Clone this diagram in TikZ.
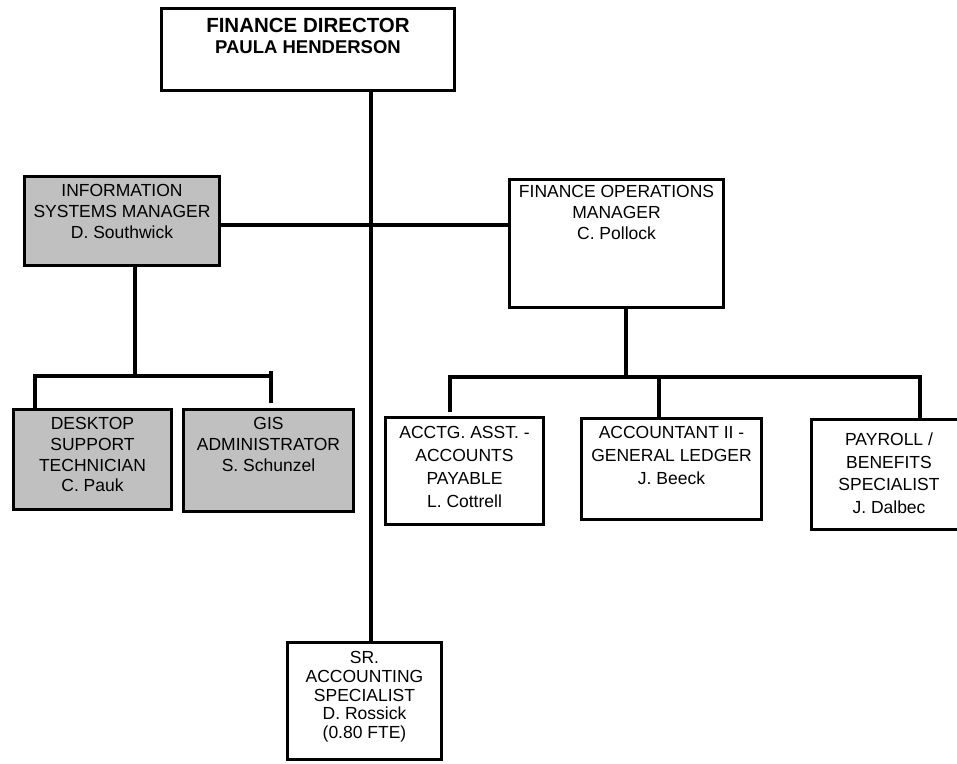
\documentclass[tikz,border=0pt]{standalone}
\usepackage{fontspec}
\setmainfont{Liberation Sans}
\definecolor{unitgray}{HTML}{C0C0C0}
\tikzset{
  orgbox/.style={draw=black, line width=3.3pt, fill=white, rectangle, inner sep=0pt, outer sep=0pt, anchor=north west},
  itbox/.style={orgbox, fill=unitgray},
  title/.style={anchor=north, inner sep=0pt, align=center, font=\fontsize{17.5}{20.6}\selectfont},
  wide/.style={title, font=\fontsize{17.5}{22.7}\selectfont},
  tight/.style={title, font=\fontsize{17.5}{18.8}\selectfont},
  link/.style={line width=4pt, line join=miter}
}
\begin{document}
\begin{tikzpicture}[x=1pt, y=-1pt]
\useasboundingbox (0,0) rectangle (957,763);
\clip (0,0) rectangle (957,763);

% boxes
\node[orgbox, minimum width=293pt, minimum height=82pt] (fd) at (161.5,8.5) {};
\node[itbox, minimum width=195pt, minimum height=89pt] (ism) at (24.5,176.5) {};
\node[orgbox, minimum width=214pt, minimum height=128pt] (fom) at (509.5,179.5) {};
\node[itbox, minimum width=158pt, minimum height=100pt] (dst) at (13.5,409.5) {};
\node[itbox, minimum width=170pt, minimum height=102pt] (gis) at (183.5,409.5) {};
\node[orgbox, minimum width=158pt, minimum height=107pt] (ap) at (385.5,417.5) {};
\node[orgbox, minimum width=180pt, minimum height=101pt] (gl) at (581.5,418.5) {};
\node[orgbox, minimum width=156pt, minimum height=110pt] (pay) at (811.5,419.5) {};
\node[orgbox, minimum width=154pt, minimum height=117pt] (sr) at (287.5,642.5) {};

% texts
\node[title, font=\bfseries\fontsize{18.5}{21}\selectfont] (fdt) at (308,17.5)
  {{\fontsize{20.5}{21}\selectfont FINANCE DIRECTOR}\\PAULA HENDERSON};
\node[title] (ismt) at (122,184.5) {INFORMATION\\SYSTEMS MANAGER\\D. Southwick};
\node[title] (fomt) at (616.5,185.5) {FINANCE OPERATIONS\\MANAGER\\C. Pollock};
\node[title] (dstt) at (92.5,417.5) {DESKTOP\\SUPPORT\\TECHNICIAN\\C. Pauk};
\node[title] (gist) at (268.5,417.5) {GIS\\ADMINISTRATOR\\S. Schunzel};
\node[wide] (apt) at (464.5,426.5) {ACCTG. ASST. -\\ACCOUNTS\\PAYABLE\\L. Cottrell};
\node[wide] (glt) at (671.5,426.5) {ACCOUNTANT II -\\GENERAL LEDGER\\J. Beeck};
\node[wide] (payt) at (889,432.5) {PAYROLL /\\BENEFITS\\SPECIALIST\\J. Dalbec};
\node[tight] (srt) at (364.5,651) {SR.\\ACCOUNTING\\SPECIALIST\\D. Rossick\\(0.80 FTE)};

% junction points
\coordinate (trunk) at (371,0);
\coordinate (midrow) at (0,225);
\coordinate (isdrop) at (135,376);
\coordinate (lbarL) at (35,376);
\coordinate (lbarR) at (271,376);
\coordinate (gistop) at (271,371);
\coordinate (gisend) at (271,403);
\coordinate (fomdrop) at (626,377);
\coordinate (rbarL) at (450,377);
\coordinate (rbarR) at (920,377);
\coordinate (apend) at (450,412);
\coordinate (gldrop) at (659,377);

% connectors
\draw[link] (fd.south -| trunk) -- (sr.north -| trunk);
\draw[link] (ism.east |- midrow) -- (fom.west |- midrow);
\draw[link] (ism.south -| isdrop) -- (isdrop);
\draw[link] (dst.north -| lbarL) -- (lbarL) -- (lbarR);
\draw[link] (gistop) -- (gisend);
\draw[link] (fom.south -| fomdrop) -- (fomdrop);
\draw[link] (apend) -- (rbarL) -- (rbarR) -- (pay.north -| rbarR);
\draw[link] (gldrop) -- (gl.north -| gldrop);
\end{tikzpicture}
\end{document}
